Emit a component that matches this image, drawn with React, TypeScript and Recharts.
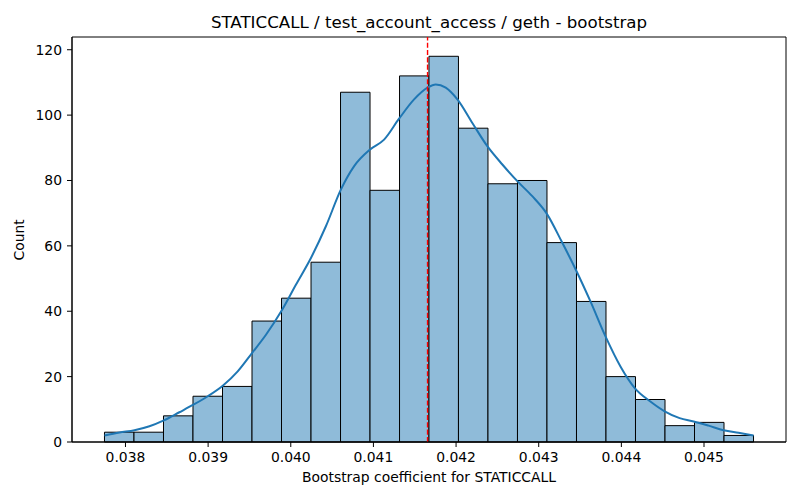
import React from 'react';
import { ComposedChart, XAxis, YAxis, Line, ReferenceArea, ReferenceLine, Label } from 'recharts';

const binEdges = [
  0.037746, 0.038103, 0.03846, 0.038817, 0.039174, 0.039531, 0.039888, 0.040245,
  0.040602, 0.040959, 0.041316, 0.041672, 0.042029, 0.042386, 0.042743, 0.0431,
  0.043457, 0.043814, 0.044171, 0.044528, 0.044885, 0.045242, 0.045599,
];
const binCounts = [3, 3, 8, 14, 17, 37, 44, 55, 107, 77, 112, 118, 96, 79, 80, 61, 43, 20, 13, 5, 6, 2];

const kdeX = [
  0.037746, 0.037928, 0.038109, 0.03829, 0.038464, 0.038652, 0.038822, 0.038996, 0.039177, 0.039358,
  0.039531, 0.0397, 0.03989, 0.040062, 0.040244, 0.040425, 0.040606, 0.040767, 0.04096, 0.041129,
  0.04131, 0.041492, 0.041654, 0.041754, 0.041875, 0.042016, 0.042197, 0.042378, 0.04256, 0.042741,
  0.042922, 0.043099, 0.043276, 0.043449, 0.043626, 0.043808, 0.043989, 0.044162, 0.044351, 0.044524,
  0.044705, 0.044875, 0.045056, 0.045237, 0.045418, 0.045599,
];
const kdeY = [
  2.0, 2.9, 3.6, 4.8, 6.6, 9.1, 11.4, 14.0, 17.2, 21.6,
  27.2, 32.8, 40.2, 48.1, 56.3, 66.0, 77.2, 84.4, 89.5, 92.5,
  98.9, 104.8, 108.4, 109.4, 108.4, 104.8, 97.6, 90.5, 84.9, 79.8,
  75.2, 69.8, 61.4, 52.7, 43.0, 32.3, 23.1, 16.5, 12.4, 9.4,
  7.3, 6.3, 5.0, 3.6, 2.8, 2.0,
];

const markerValue = 0.041655;
const xTicks = [0.038, 0.039, 0.04, 0.041, 0.042, 0.043, 0.044, 0.045];
const yTicks = [0, 20, 40, 60, 80, 100, 120];
const xDomain = [0.037353, 0.045992];
const yDomain = [0, 123.9];

const title = 'STATICCALL / test_account_access / geth - bootstrap';
const xLabel = 'Bootstrap coefficient for STATICCALL';
const yLabel = 'Count';

const kdeData = kdeX.map((x, i) => ({ x, y: kdeY[i] }));

const FONT = 'DejaVu Sans, sans-serif';
const tickStyle = { fill: '#000', fontSize: 13.9, fontFamily: FONT };

export default function App() {
  return (
    <div style={{ position: 'absolute', left: 0, top: 0, width: 800, height: 500, background: '#fff' }}>
      <ComposedChart
        width={800}
        height={500}
        data={kdeData}
        margin={{ top: 37, right: 14, bottom: 0, left: 0 }}
      >
        <XAxis
          dataKey="x"
          type="number"
          domain={xDomain}
          allowDataOverflow
          ticks={xTicks}
          interval={0}
          tickFormatter={(v: number) => v.toFixed(3)}
          height={58}
          tick={tickStyle}
          tickSize={5}
          tickMargin={5.5}
          stroke="#000"
          tickLine={{ stroke: '#000' }}
          axisLine={{ stroke: '#000' }}
        >
          <Label
            content={(props: any) => {
              const vb = props.viewBox || { x: 72, y: 442, width: 714, height: 58 };
              return (
                <text
                  x={vb.x + vb.width / 2}
                  y={481.5}
                  textAnchor="middle"
                  fontSize={13.9}
                  fontFamily={FONT}
                  fill="#000"
                >
                  {xLabel}
                </text>
              );
            }}
          />
        </XAxis>
        <YAxis
          type="number"
          domain={yDomain}
          allowDataOverflow
          ticks={yTicks}
          interval={0}
          width={72}
          tick={tickStyle}
          tickSize={5}
          tickMargin={5}
          stroke="#000"
          tickLine={{ stroke: '#000' }}
          axisLine={{ stroke: '#000' }}
        >
          <Label
            content={() => (
              <text
                x={24.5}
                y={239.8}
                transform="rotate(-90, 24.5, 239.8)"
                textAnchor="middle"
                fontSize={13.9}
                fontFamily={FONT}
                fill="#000"
              >
                {yLabel}
              </text>
            )}
          />
        </YAxis>
        {binCounts.map((c, i) => (
          <ReferenceArea
            key={i}
            x1={binEdges[i]}
            x2={binEdges[i + 1]}
            y1={0}
            y2={c}
            fill="#8fbbd9"
            fillOpacity={1}
            stroke="#000"
            strokeWidth={1}
            strokeOpacity={1}
          />
        ))}
        <Line
          dataKey="y"
          type="monotone"
          stroke="#1f77b4"
          strokeWidth={2}
          dot={false}
          activeDot={false}
          isAnimationActive={false}
        />
        <ReferenceLine x={markerValue} stroke="#ff0000" strokeWidth={1.4} strokeDasharray="5.1 2.2" />
        <ReferenceArea
          x1={xDomain[0]}
          x2={xDomain[1]}
          y1={yDomain[0]}
          y2={yDomain[1]}
          fill="none"
          fillOpacity={0}
          stroke="#000"
          strokeWidth={1}
          strokeOpacity={1}
        >
          <Label
            content={(props: any) => {
              const vb = props.viewBox || { x: 72, y: 37, width: 714, height: 405 };
              return (
                <text
                  x={vb.x + vb.width / 2}
                  y={28}
                  textAnchor="middle"
                  fontSize={16.67}
                  fontFamily={FONT}
                  fill="#000"
                >
                  {title}
                </text>
              );
            }}
          />
        </ReferenceArea>
      </ComposedChart>
    </div>
  );
}
